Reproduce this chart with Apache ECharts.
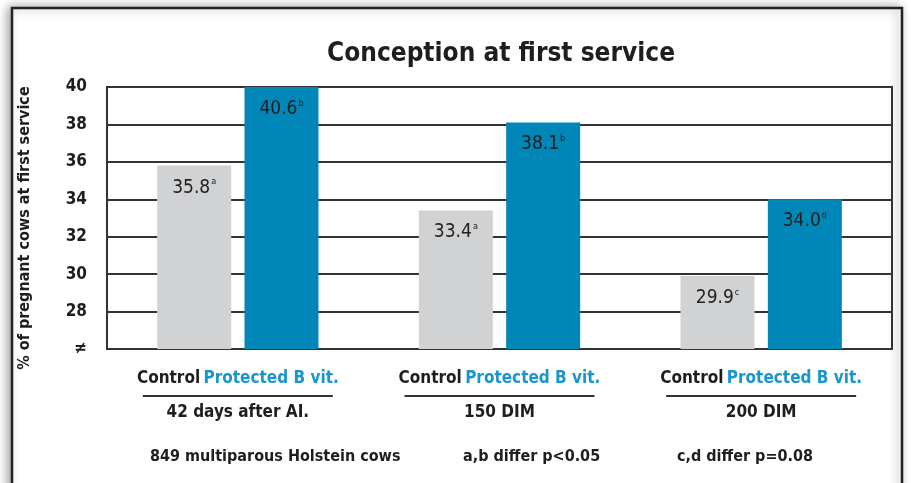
<!DOCTYPE html>
<html>
<head>
<meta charset="utf-8">
<script src="https://cdn.jsdelivr.net/npm/echarts@6/dist/echarts.min.js"></script>
<style>
html,body{margin:0;padding:0;background:#ffffff;}
#chart{width:911px;height:483px;}
</style>
</head>
<body>
<div id="chart"></div>
<script>
// ---- data ----
const categories = ['42 days after AI.', '150 DIM', '200 DIM'];
const seriesNames = ['Control', 'Protected B vit.'];
const controlValues = [35.8, 33.4, 29.9];
const protectedValues = [40.6, 38.1, 34.0];
const controlSup = ['a', 'a', 'c'];
const protectedSup = ['b', 'b', 'd'];
const yMin = 26, yMax = 40, yStep = 2;
const yBreakLabel = '\u2260';
const titleText = 'Conception at first service';
const yAxisTitle = '% of pregnant cows at first service';
const footnotes = ['849 multiparous Holstein cows', 'a,b differ p<0.05', 'c,d differ p=0.08'];

const FONT = "'Liberation Sans Narrow', 'DejaVu Sans Condensed', 'Arial Narrow', sans-serif";
const DARK = '#1e1e1e';
const GREY = '#d1d2d4';
const BLUE = '#0087b8';
const BLUE_TEXT = '#1a96cf';
const LINE = '#333333';

const chart = echarts.init(document.getElementById('chart'), null, {renderer: 'canvas'});

function barLabel(sups) {
  return {
    show: true,
    position: 'insideTop',
    distance: 12,
    formatter: p => '{v|' + p.value.toFixed(1) + '}{s|' + sups[p.dataIndex] + '}',
    rich: {
      v: {fontFamily: FONT, fontSize: 19, color: '#222', lineHeight: 20},
      s: {fontFamily: FONT, fontSize: 9, color: '#222', verticalAlign: 'top', lineHeight: 20, padding: [0, 0, 0, 1]}
    }
  };
}

const option = {
  backgroundColor: '#ffffff',
  animation: false,
  title: {
    text: titleText,
    left: 496,
    top: 36,
    textAlign: 'center',
    textStyle: {fontFamily: FONT, fontWeight: 'bold', fontSize: 26, color: DARK}
  },
  grid: {
    left: 107, right: 19, top: 87, bottom: 134,
    show: true, borderColor: LINE, borderWidth: 2, backgroundColor: 'transparent'
  },
  xAxis: {
    type: 'category',
    data: categories,
    axisLine: {show: true, lineStyle: {color: LINE, width: 2}},
    axisTick: {show: false},
    axisLabel: {
      margin: 20,
      interval: 0,
      formatter: (v) => '{c|' + seriesNames[0] + '} {p|' + seriesNames[1] + '}\n{l|}\n{d|' + v + '}',
      rich: {
        c: {fontFamily: FONT, fontWeight: 'bold', fontSize: 17, color: DARK, lineHeight: 20},
        p: {fontFamily: FONT, fontWeight: 'bold', fontSize: 17, color: BLUE_TEXT, lineHeight: 20},
        l: {width: 190, height: 2, backgroundColor: LINE, lineHeight: 14},
        d: {fontFamily: FONT, fontWeight: 'bold', fontSize: 17, color: DARK, lineHeight: 20}
      }
    }
  },
  yAxis: {
    type: 'value',
    min: yMin, max: yMax, interval: yStep,
    name: yAxisTitle,
    nameLocation: 'middle',
    nameGap: 74,
    nameTextStyle: {fontFamily: FONT, fontWeight: 'bold', fontSize: 16, color: DARK, padding: [0, 20, 0, 0]},
    axisLine: {show: true, lineStyle: {color: LINE, width: 2}},
    axisTick: {show: false},
    splitLine: {show: true, lineStyle: {color: LINE, width: 2}},
    axisLabel: {
      margin: 20,
      fontFamily: FONT, fontWeight: 'bold', fontSize: 17, color: DARK,
      formatter: v => (v === yMin ? yBreakLabel : String(v))
    }
  },
  series: [
    {
      name: seriesNames[0], type: 'bar', data: controlValues,
      barWidth: 74, barGap: '18%',
      itemStyle: {color: GREY},
      label: barLabel(controlSup)
    },
    {
      name: seriesNames[1], type: 'bar', data: protectedValues,
      barWidth: 74, barGap: '18%',
      itemStyle: {color: BLUE},
      label: barLabel(protectedSup)
    }
  ],
  graphic: [
    {
      type: 'rect', z: -10, silent: true,
      shape: {x: 12, y: 8, width: 890, height: 520},
      style: {fill: '#ffffff', stroke: '#222', lineWidth: 2.5,
        shadowBlur: 10, shadowColor: 'rgba(0,0,0,0.35)', shadowOffsetX: -3, shadowOffsetY: 0}
    },
    {type: 'text', left: 150, top: 449, style: {text: footnotes[0], font: 'bold 16px ' + FONT, fill: DARK}},
    {type: 'text', left: 463, top: 449, style: {text: footnotes[1], font: 'bold 16px ' + FONT, fill: DARK}},
    {type: 'text', left: 677, top: 449, style: {text: footnotes[2], font: 'bold 16px ' + FONT, fill: DARK}}
  ]
};
chart.setOption(option);
</script>
</body>
</html>
